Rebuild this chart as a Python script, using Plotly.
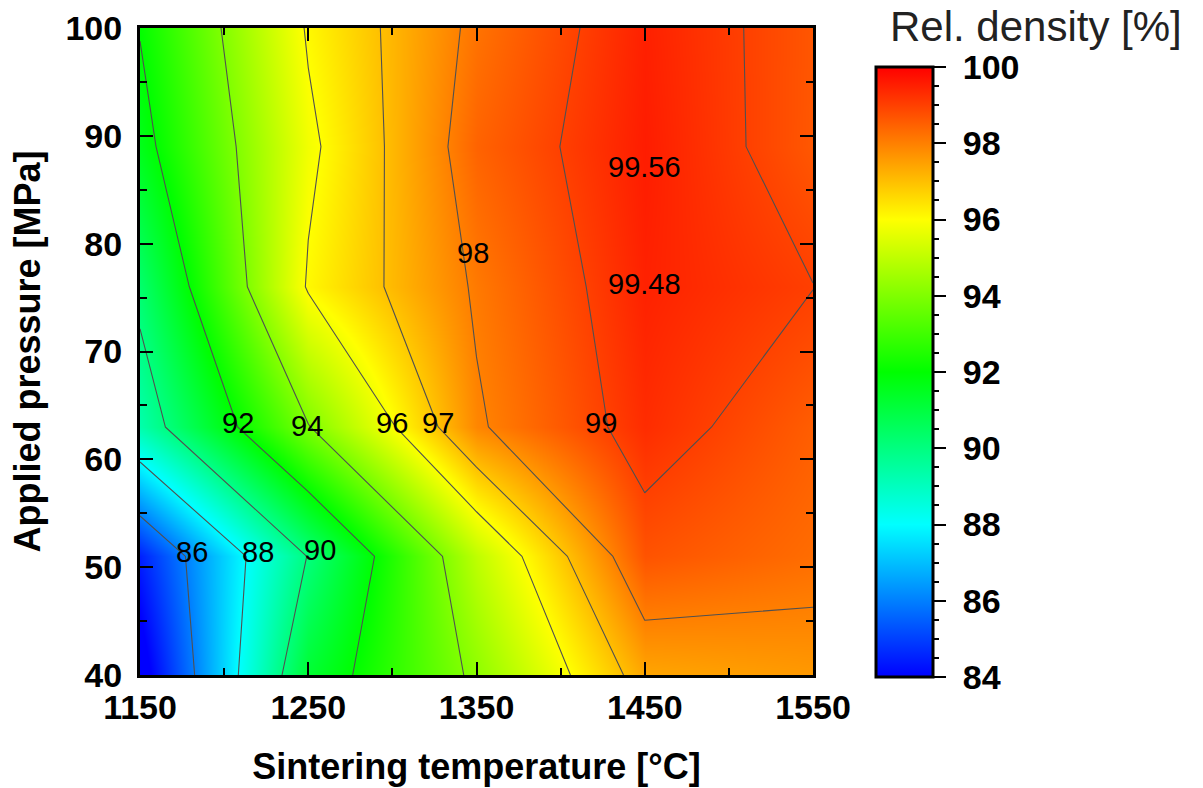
import plotly.graph_objects as go

# Measurement grid: sintering temperature (°C) x applied pressure (MPa)
temperature = [1150, 1250, 1350, 1450, 1550]
pressure = [40, 51, 63, 76, 89, 100]

# Relative density [%], one row per pressure, one column per temperature
density_p40 = [83.5, 91.2, 94.23, 97.4, 97.6]
density_p51 = [84.5, 90.05, 95.0, 98.7, 98.3]
density_p63 = [89.3, 93.95, 97.9, 99.31, 98.53]
density_p76 = [90.3, 96.1, 98.1, 99.48, 99.01]
density_p89 = [91.6, 95.8, 98.45, 99.56, 98.63]
density_p100 = [92.05, 96.1, 98.2, 99.5, 98.65]
density = [density_p40, density_p51, density_p63, density_p76, density_p89, density_p100]

# Iso-density levels and where their labels sit
level_values = [86, 88, 90, 92, 94, 96, 97, 98, 99]
level_label_t = [1181, 1220, 1257, 1208, 1249, 1300, 1327, 1348, 1424]
level_label_p = [51.4, 51.4, 51.6, 63.4, 63.1, 63.4, 63.4, 79.1, 63.4]

# Peak-density points annotated with their measured value
peak_t_index = [3, 3]
peak_p_index = [4, 3]
peak_label_p = [87.1, 76.3]

rainbow = [
    [0.00, "rgb(0,0,255)"],
    [0.25, "rgb(0,255,255)"],
    [0.50, "rgb(0,255,0)"],
    [0.75, "rgb(255,255,0)"],
    [1.00, "rgb(255,0,0)"],
]

FONT = "Liberation Sans, Arial, sans-serif"
W, H = 1203, 788
ML, MR, MT, MB = 140, 50, 28, 111
PW = W - ML - MR
PH = H - MT - MB

plot_right = 813
bar_left, bar_right, bar_top, bar_bottom = 876, 933, 67, 677

line_style = dict(color="#505050", width=1.1, smoothing=0)

fig = go.Figure()

# smooth colour field (no iso-lines, so the colour bar stays clean)
fig.add_trace(go.Contour(
    x=temperature, y=pressure, z=density,
    colorscale=rainbow, zauto=False, zmin=84, zmax=100,
    contours=dict(coloring="heatmap", start=84, end=100, size=16, showlabels=False),
    line=dict(width=0, smoothing=0),
    colorbar=dict(
        x=(bar_left - ML) / PW, xanchor="left", xpad=0,
        y=(MT + PH - bar_bottom) / PH, yanchor="bottom", ypad=0,
        len=(bar_bottom - bar_top) / PH, lenmode="fraction",
        thickness=bar_right - bar_left,
        outlinecolor="black", outlinewidth=3,
        ticks="", showticklabels=False,
    ),
    hoverinfo="skip",
))

# iso-density lines 86 ... 96 every 2 %
fig.add_trace(go.Contour(
    x=temperature, y=pressure, z=density,
    showscale=False,
    contours=dict(coloring="none", start=86, end=96, size=2, showlabels=False),
    line=line_style,
    hoverinfo="skip",
))

# iso-density lines 97 ... 99 every 1 %
fig.add_trace(go.Contour(
    x=temperature, y=pressure, z=density,
    showscale=False,
    contours=dict(coloring="none", start=97, end=99, size=1, showlabels=False),
    line=line_style,
    hoverinfo="skip",
))

# empty trace carrying the colour-scale axis
fig.add_trace(go.Scatter(x=[None], y=[None], xaxis="x2", yaxis="y2",
                         showlegend=False, hoverinfo="skip"))

label_font = dict(family=FONT, size=29, color="black")
for v, t, p in zip(level_values, level_label_t, level_label_p):
    fig.add_annotation(x=t, y=p, xref="x", yref="y", text=f"{v:g}",
                       showarrow=False, font=label_font)
for ti, pi, lp in zip(peak_t_index, peak_p_index, peak_label_p):
    fig.add_annotation(x=temperature[ti], y=lp, xref="x", yref="y",
                       text=f"{density[pi][ti]:.2f}", showarrow=False, font=label_font)

fig.add_annotation(text="Rel. density [%]", xref="paper", yref="paper",
                   x=(1036 - ML) / PW, y=(MT + PH - 27) / PH,
                   xanchor="center", yanchor="middle", showarrow=False,
                   font=dict(family=FONT, size=42, color="#222222"))

tick_font = dict(family=FONT, size=34, color="black", weight="bold")
title_font = dict(family=FONT, size=36, color="black", weight="bold")

fig.update_layout(
    width=W, height=H,
    margin=dict(l=ML, r=MR, t=MT, b=MB, pad=0, autoexpand=False),
    paper_bgcolor="white", plot_bgcolor="white",
    showlegend=False,
    xaxis=dict(
        domain=[0, (plot_right - ML) / PW], range=[1150, 1550],
        tick0=1150, dtick=100, ticks="inside", ticklen=13, tickwidth=2,
        tickcolor="black", minor=dict(dtick=50, ticks="inside", ticklen=7, tickwidth=2, tickcolor="black"),
        showline=True, linewidth=3, linecolor="black", mirror="allticks",
        showgrid=False, zeroline=False, tickfont=tick_font, ticklabelstandoff=0,
        automargin=False,
        title=dict(text="Sintering temperature [°C]", font=title_font, standoff=30),
    ),
    yaxis=dict(
        domain=[(MT + PH - 675) / PH, 1], range=[40, 100],
        tick0=40, dtick=10, ticks="inside", ticklen=13, tickwidth=2,
        tickcolor="black", minor=dict(dtick=5, ticks="inside", ticklen=7, tickwidth=2, tickcolor="black"),
        showline=True, linewidth=3, linecolor="black", mirror="allticks",
        showgrid=False, zeroline=False, tickfont=tick_font, ticklabelstandoff=8,
        automargin=False,
        title=dict(text="Applied pressure [MPa]", font=title_font, standoff=14),
    ),
    xaxis2=dict(domain=[(bar_left - ML) / PW, (bar_right - ML) / PW], anchor="y2",
                visible=False, range=[0, 1]),
    yaxis2=dict(
        domain=[(MT + PH - bar_bottom) / PH, (MT + PH - bar_top) / PH],
        anchor="free", position=(bar_right - ML) / PW, side="right",
        range=[84, 100], tick0=84, dtick=2,
        ticks="outside", ticklen=12, tickwidth=2, tickcolor="black",
        minor=dict(dtick=0.5, ticks="outside", ticklen=5, tickwidth=2, tickcolor="black"),
        showline=False, showgrid=False, zeroline=False, automargin=False,
        tickfont=tick_font, ticklabelstandoff=10,
    ),
)

fig.write_html("out.html")
